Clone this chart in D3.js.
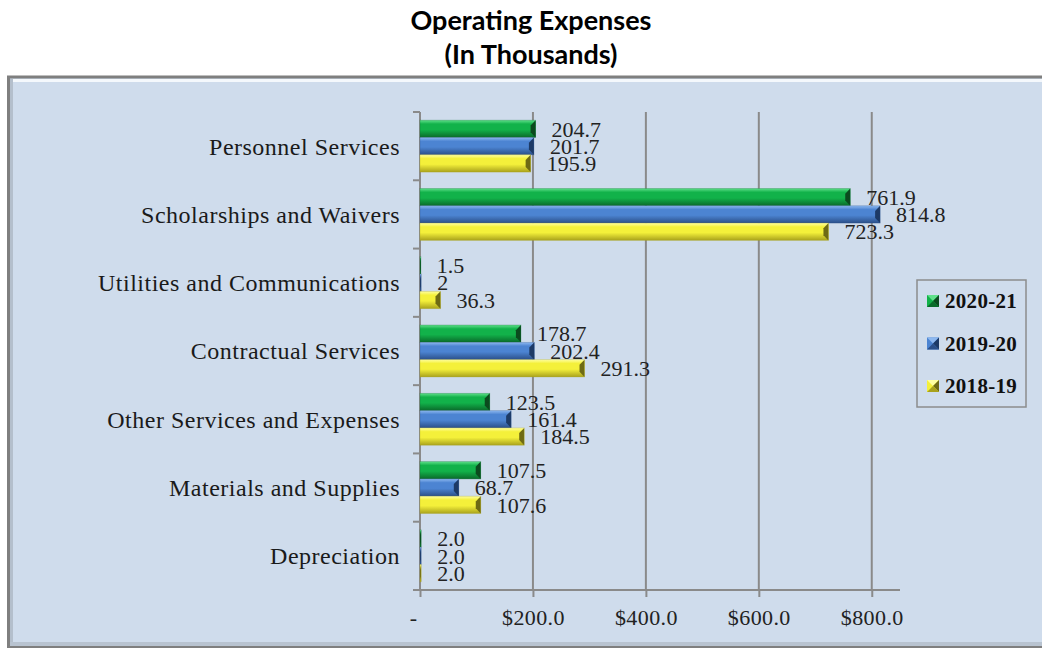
<!DOCTYPE html>
<html>
<head>
<meta charset="utf-8">
<script src="https://cdn.jsdelivr.net/npm/d3@7"></script>
<style>
  body { margin: 0; background: #fff; }
  svg { display: block; }
</style>
</head>
<body>
<div id="chart"></div>
<script>
// data
var categories = ["Personnel Services", "Scholarships and Waivers", "Utilities and Communications",
                  "Contractual Services", "Other Services and Expenses", "Materials and Supplies", "Depreciation"];
var seriesNames = ["2020-21", "2019-20", "2018-19"];
var values2021 = [204.7, 761.9, 1.5, 178.7, 123.5, 107.5, 2.0];
var values1920 = [201.7, 814.8, 2, 202.4, 161.4, 68.7, 2.0];
var values1819 = [195.9, 723.3, 36.3, 291.3, 184.5, 107.6, 2.0];
var labels2021 = ["204.7", "761.9", "1.5", "178.7", "123.5", "107.5", "2.0"];
var labels1920 = ["201.7", "814.8", "2", "202.4", "161.4", "68.7", "2.0"];
var labels1819 = ["195.9", "723.3", "36.3", "291.3", "184.5", "107.6", "2.0"];
var xTicks = [0, 200, 400, 600, 800];

var W = 1042, H = 648;
var svg = d3.select("#chart").append("svg").attr("width", W).attr("height", H);

// colours per series: light top, main, dark bottom, end bevel
var palette = {
  "2020-21": ["#5fe08a", "#12b24a", "#0a6a2a", "#0b4a1e"],
  "2019-20": ["#8db8f0", "#4c84d2", "#2b4f88", "#1d3a66"],
  "2018-19": ["#ffffa0", "#f4f03a", "#a9a21c", "#6e6a14"]
};

var defs = svg.append("defs");
seriesNames.forEach(function(s, i) {
  var g = defs.append("linearGradient").attr("id", "grad" + i)
    .attr("x1", 0).attr("y1", 0).attr("x2", 0).attr("y2", 1);
  var c = palette[s];
  g.append("stop").attr("offset", "0%").attr("stop-color", c[0]);
  g.append("stop").attr("offset", "22%").attr("stop-color", c[1]);
  g.append("stop").attr("offset", "55%").attr("stop-color", c[1]);
  g.append("stop").attr("offset", "100%").attr("stop-color", c[2]);
});

// frame
svg.append("rect").attr("x", 8.5).attr("y", 77).attr("width", 1060).attr("height", 570)
  .attr("fill", "#cfdcec").attr("stroke", "#7f7f7f").attr("stroke-width", 3);
svg.append("rect").attr("x", 10).attr("y", 79).attr("width", 1040).attr("height", 3).attr("fill", "#f4f8fc");
svg.append("rect").attr("x", 10).attr("y", 79).attr("width", 3).attr("height", 565).attr("fill", "#b4bfcc");
svg.append("rect").attr("x", 10).attr("y", 642).attr("width", 1040).attr("height", 4).attr("fill", "#b8c3d0");

// title
var title = svg.append("text").attr("text-anchor", "middle")
  .style("font-family", "Lato, 'Open Sans', sans-serif").style("font-weight", "bold")
  .style("font-size", "27px").attr("fill", "#000");
title.append("tspan").attr("x", 531).attr("y", 30).text("Operating Expenses");
title.append("tspan").attr("x", 531).attr("y", 64).text("(In Thousands)");

var x = d3.scaleLinear().domain([0, 850]).range([420, 900]);
var y = d3.scaleBand().domain(categories).range([112, 590]);
var ySub = d3.scaleBand().domain(seriesNames).range([y.bandwidth() * 0.12, y.bandwidth() * 0.88]);

var serif = "'Liberation Serif', 'DejaVu Serif', serif";

// gridlines
svg.append("g").selectAll("line").data(xTicks.slice(1)).join("line")
  .attr("x1", function(d) { return x(d); }).attr("x2", function(d) { return x(d); })
  .attr("y1", 112).attr("y2", 590)
  .attr("stroke", "#8a8a8a").attr("stroke-width", 2);

// x axis
var xAxis = svg.append("g").attr("transform", "translate(0,590)")
  .call(d3.axisBottom(x).tickValues(xTicks).tickSize(7).tickPadding(12)
    .tickFormat(function(d) { return d === 0 ? "-" : "$" + d3.format(".1f")(d); }));
xAxis.select(".domain").attr("d", "M413,0H900").attr("stroke", "#8a8a8a").attr("stroke-width", 2);
xAxis.selectAll(".tick line").attr("stroke", "#8a8a8a").attr("stroke-width", 2);
xAxis.selectAll(".tick text").style("font-family", serif).style("font-size", "22px")
  .style("letter-spacing", "0.4px").attr("fill", "#222");
xAxis.selectAll(".tick").filter(function(d) { return d === 0; }).select("text").attr("dx", -7);

// y axis: line with ticks at band edges
svg.append("line").attr("x1", 420).attr("x2", 420).attr("y1", 112).attr("y2", 590)
  .attr("stroke", "#8a8a8a").attr("stroke-width", 2);
var edges = categories.map(function(c) { return y(c); });
svg.append("g").selectAll("line").data(edges).join("line")
  .attr("x1", 413).attr("x2", 420)
  .attr("y1", function(d) { return d; }).attr("y2", function(d) { return d; })
  .attr("stroke", "#8a8a8a").attr("stroke-width", 2);

svg.append("g").selectAll("text").data(categories).join("text")
  .attr("x", 400).attr("y", function(d) { return y(d) + y.bandwidth() / 2; })
  .attr("dy", "0.35em").attr("text-anchor", "end")
  .style("font-family", serif).style("font-size", "24px").style("letter-spacing", "0.5px")
  .attr("fill", "#1a1a1a")
  .text(function(d) { return d; });

// bars
var allValues = [values2021, values1920, values1819];
var allLabels = [labels2021, labels1920, labels1819];
var rows = [];
seriesNames.forEach(function(s, i) {
  categories.forEach(function(c, j) {
    rows.push({ series: s, idx: i, cat: c, value: allValues[i][j], label: allLabels[i][j] });
  });
});

var bars = svg.append("g").selectAll("g").data(rows).join("g")
  .attr("transform", function(d) { return "translate(0," + (y(d.cat) + ySub(d.series)) + ")"; });
var bh = ySub.bandwidth();

bars.append("rect")
  .attr("x", x(0)).attr("y", 0)
  .attr("width", function(d) { return x(d.value) - x(0); })
  .attr("height", bh)
  .attr("fill", function(d) { return "url(#grad" + d.idx + ")"; });

// bevel at bar end
bars.append("path")
  .attr("d", function(d) {
    var e = x(d.value), w = Math.min(5, e - x(0));
    return "M" + e + ",0L" + (e - w) + "," + (bh * 0.3) + "L" + (e - w) + "," + (bh * 0.7) + "L" + e + "," + bh + "Z";
  })
  .attr("fill", function(d) { return palette[d.series][3]; });
bars.append("rect")
  .attr("x", x(0)).attr("y", 0)
  .attr("width", function(d) { return x(d.value) - x(0); })
  .attr("height", bh)
  .attr("fill", "none").attr("stroke", function(d) { return palette[d.series][2]; })
  .attr("stroke-opacity", 0.35).attr("stroke-width", 0.8);

bars.append("text")
  .attr("x", function(d) { return x(d.value) + 16; })
  .attr("y", bh / 2).attr("dy", "0.35em")
  .style("font-family", serif).style("font-size", "22px").attr("fill", "#222")
  .text(function(d) { return d.label; });

// legend
var legend = svg.append("g");
legend.append("rect").attr("x", 917).attr("y", 280).attr("width", 109).attr("height", 127)
  .attr("fill", "#cfdcec").attr("stroke", "#8c8c8c").attr("stroke-width", 1.5);
var items = legend.selectAll("g").data(seriesNames).join("g")
  .attr("transform", function(d, i) { return "translate(927," + (301 + i * 42.5) + ")"; });
items.append("rect").attr("x", 0).attr("y", -6).attr("width", 12).attr("height", 12)
  .attr("fill", function(d) { return palette[d][1]; });
items.append("path").attr("d", "M0,-6L6,0L12,-6Z").attr("fill", function(d) { return palette[d][0]; });
items.append("path").attr("d", "M12,-6L6,0L12,6Z").attr("fill", function(d) { return palette[d][3]; });
items.append("path").attr("d", "M0,6L6,0L12,6Z").attr("fill", function(d) { return palette[d][2]; });
items.append("text").attr("x", 18).attr("y", 0).attr("dy", "0.35em")
  .style("font-family", serif).style("font-weight", "bold").style("font-size", "21px")
  .style("letter-spacing", "0.3px").attr("fill", "#111")
  .text(function(d) { return d; });
</script>
</body>
</html>
